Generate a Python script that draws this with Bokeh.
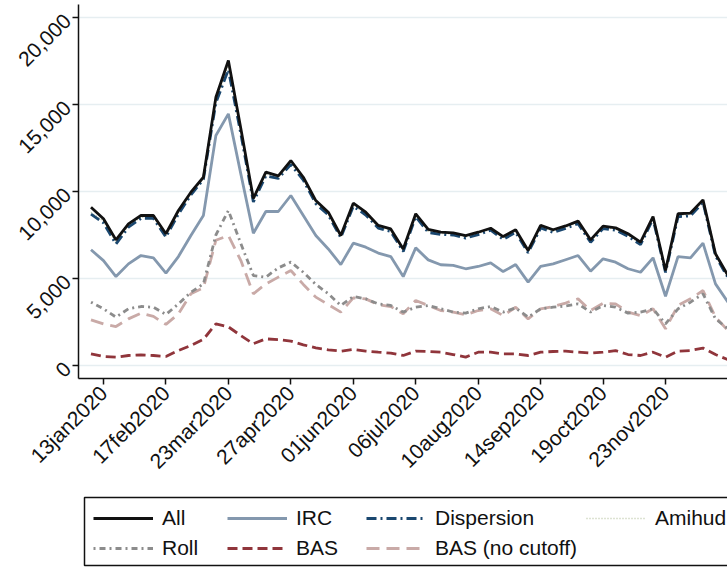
import math
import pandas as pd
from bokeh.plotting import figure
from bokeh.layouts import column
from bokeh.models import (Range1d, FixedTicker, NumeralTickFormatter, Legend,
                          LegendItem, BoxAnnotation)
from bokeh.embed import file_html
from bokeh.resources import INLINE

# ---------------- data (weekly, starting 06jan2020) ----------------
week_start = "2020-01-06"
n_weeks = 52
dates = pd.date_range(week_start, periods=n_weeks, freq="7D")

tick_dates = ["2020-01-13", "2020-02-17", "2020-03-23", "2020-04-27", "2020-06-01",
              "2020-07-06", "2020-08-10", "2020-09-14", "2020-10-19", "2020-11-23"]
tick_labels = ["13jan2020", "17feb2020", "23mar2020", "27apr2020", "01jun2020",
               "06jul2020", "10aug2020", "14sep2020", "19oct2020", "23nov2020"]

all_vals = [9100, 8430, 7220, 8140, 8620, 8620, 7570, 8910, 9960, 10820,
            15420, 17530, 13600, 9600, 11110, 10900, 11780, 10820, 9480, 8810,
            7470, 9330, 8810, 8050, 7850, 6700, 8720, 7820, 7660, 7620,
            7470, 7660, 7890, 7410, 7800, 6610, 8050, 7800, 8020, 8300,
            7220, 8010, 7910, 7570, 7090, 8560, 5460, 8720, 8760, 9520,
            6420, 5170]
irc_vals = [6650, 6030, 5110, 5840, 6320, 6190, 5310, 6260, 7470, 8620,
            13220, 14460, 11000, 7600, 8850, 8850, 9770, 8620, 7470, 6700,
            5800, 7030, 6800, 6460, 6260, 5110, 6760, 6070, 5790, 5750,
            5560, 5690, 5900, 5400, 5800, 4790, 5690, 5840, 6080, 6320,
            5420, 6130, 5940, 5560, 5360, 6190, 3980, 6260, 6190, 7030,
            4690, 3640]
disp_vals = [8700, 8200, 6980, 7950, 8450, 8450, 7380, 8700, 9800, 10700,
             15100, 17000, 13300, 9400, 10900, 10750, 11550, 10650, 9300, 8650,
             7350, 9150, 8650, 7900, 7700, 6550, 8550, 7650, 7530, 7500,
             7320, 7520, 7780, 7250, 7650, 6480, 7900, 7650, 7880, 8150,
             7080, 7870, 7780, 7420, 6950, 8420, 5350, 8550, 8600, 9380,
             6300, 5050]
amihud_vals = [8800, 8300, 7050, 8050, 8520, 8530, 7450, 8800, 9880, 10750,
               15250, 17200, 13450, 9500, 11000, 10820, 11650, 10720, 9380, 8720,
               7400, 9230, 8720, 7970, 7770, 6620, 8630, 7720, 7590, 7560,
               7390, 7590, 7830, 7320, 7720, 6540, 7970, 7720, 7950, 8220,
               7150, 7940, 7840, 7490, 7020, 8490, 5400, 8630, 8680, 9450,
               6360, 5110]
roll_vals = [3640, 3260, 2780, 3260, 3390, 3350, 2930, 3540, 4210, 4690,
             7500, 8910, 7000, 5170, 5080, 5610, 5940, 5360, 4660, 4120,
             3450, 3970, 3830, 3540, 3450, 3070, 3350, 3450, 3260, 3070,
             3010, 3260, 3390, 3070, 3310, 2780, 3260, 3350, 3420, 3540,
             3070, 3450, 3350, 3010, 3070, 3260, 2390, 3260, 3640, 4120,
             2680, 2110]
bas_vals = [670, 520, 480, 575, 610, 575, 520, 860, 1150, 1500,
            2390, 2220, 1720, 1250, 1530, 1490, 1400, 1190, 1015, 900,
            825, 920, 825, 765, 710, 575, 825, 805, 765, 630,
            480, 765, 765, 670, 670, 575, 765, 805, 825, 765,
            710, 765, 860, 630, 575, 765, 480, 825, 860, 1000,
            630, 330]
basnc_vals = [2620, 2390, 2240, 2680, 3010, 2820, 2360, 2970, 4120, 4460,
              7200, 7470, 6030, 4120, 4690, 5080, 5460, 4660, 3930, 3500,
              3070, 3890, 3830, 3500, 3390, 2970, 3740, 3450, 3160, 3070,
              2910, 3160, 3260, 2870, 3350, 2680, 3260, 3390, 3590, 3830,
              3160, 3580, 3540, 3070, 2870, 3260, 2110, 3450, 3830, 4310,
              2780, 2010]

y_ticks = [0, 5000, 10000, 15000, 20000]

# ---------------- styles ----------------
FONT = "Liberation Sans"
INK = "#111111"
LW = 2.8
styles = {
    "All": dict(line_color=INK, line_width=LW),
    "IRC": dict(line_color="#8498ae", line_width=LW),
    "Dispersion": dict(line_color="#1a476f", line_width=LW, line_dash="10 4 2 4"),
    "Amihud": dict(line_color="#bcc8a8", line_width=1.5, line_dash="1 2"),
    "Roll": dict(line_color="#8c8c8c", line_width=LW, line_dash="2 4 6 4"),
    "BAS": dict(line_color="#90353b", line_width=LW, line_dash="10 5"),
    "BAS (no cutoff)": dict(line_color="#c9aaa7", line_width=LW, line_dash="13 7"),
}
series = {"All": all_vals, "IRC": irc_vals, "Dispersion": disp_vals,
          "Amihud": amihud_vals, "Roll": roll_vals, "BAS": bas_vals,
          "BAS (no cutoff)": basnc_vals}

# ---------------- main figure ----------------
x_start = pd.Timestamp("2019-12-30")
x_end = pd.Timestamp("2020-12-28 07:00")

p = figure(frame_width=650, frame_height=374, x_axis_type="datetime",
           x_range=Range1d(x_start, x_end), y_range=Range1d(-747, 20747),
           output_backend="svg", toolbar_location=None,
           min_border_left=77, min_border_right=0, min_border_top=4,
           min_border_bottom=108, background_fill_color="white",
           border_fill_color="white")
p.outline_line_color = None

tick_ms = [pd.Timestamp(d).timestamp() * 1000.0 for d in tick_dates]
p.xaxis.ticker = FixedTicker(ticks=tick_ms)
p.xaxis.major_label_overrides = {t: lab for t, lab in zip(tick_ms, tick_labels)}
p.yaxis.ticker = FixedTicker(ticks=y_ticks)
p.yaxis.formatter = NumeralTickFormatter(format="0,0")

for ax in (p.xaxis[0], p.yaxis[0]):
    ax.axis_line_color = INK
    ax.axis_line_width = 1.5
    ax.major_tick_line_color = INK
    ax.major_tick_line_width = 1.5
    ax.major_tick_out = 6
    ax.major_tick_in = 0
    ax.minor_tick_line_color = None
    ax.major_label_text_font = FONT
    ax.major_label_text_font_size = "21px"
    ax.major_label_text_color = INK
    ax.major_label_orientation = math.pi / 4
    ax.major_label_standoff = 5

p.xgrid.visible = False
p.ygrid.grid_line_color = "#e6eef1"
p.ygrid.grid_line_width = 1.5

draw_order = ["IRC", "BAS (no cutoff)", "Roll", "BAS", "Amihud", "Dispersion", "All"]
for name in draw_order:
    p.line(dates, series[name], **styles[name])

# ---------------- legend panel ----------------
# the legend keys reuse the series; the panel's own ranges keep the lines off-frame
lg = figure(width=727, frame_width=649, frame_height=81,
            x_range=Range1d(0, 1), y_range=Range1d(0, 1),
            output_backend="svg", toolbar_location=None,
            x_axis_location=None, y_axis_location=None,
            min_border=0, min_border_left=78, min_border_right=0,
            min_border_top=0, min_border_bottom=0,
            background_fill_color="white", border_fill_color="white")
lg.outline_line_color = None
lg.xgrid.visible = False
lg.ygrid.visible = False

keys = {name: lg.line(dates, series[name], **styles[name]) for name in styles}

columns = [["All", "Roll"], ["IRC", "BAS"], ["Dispersion", "BAS (no cutoff)"], ["Amihud"]]
col_x = [15, 149, 288, 508]
item_h = 25
gap = 5
top_from_bottom = 61.5  # legend top measured up from the panel bottom
for cx, col in zip(col_x, columns):
    h = len(col) * item_h + (len(col) - 1) * gap
    leg = Legend(items=[LegendItem(label=name, renderers=[keys[name]]) for name in col],
                 location=(cx, top_from_bottom - h), orientation="vertical",
                 padding=0, spacing=gap, margin=0,
                 border_line_color=None, background_fill_alpha=0,
                 glyph_width=60, glyph_height=20, label_height=item_h,
                 label_standoff=9, label_text_font=FONT,
                 label_text_font_size="21px", label_text_color=INK)
    lg.add_layout(leg)

box = BoxAnnotation(left=6, right=700, top=70, bottom=2,
                    left_units="screen", right_units="screen",
                    top_units="screen", bottom_units="screen",
                    fill_alpha=0, line_color=INK, line_alpha=1.0, line_width=1.5)
lg.add_layout(box)

layout = column(p, lg, spacing=0)
open("out.html", "w").write(file_html(layout, INLINE))
